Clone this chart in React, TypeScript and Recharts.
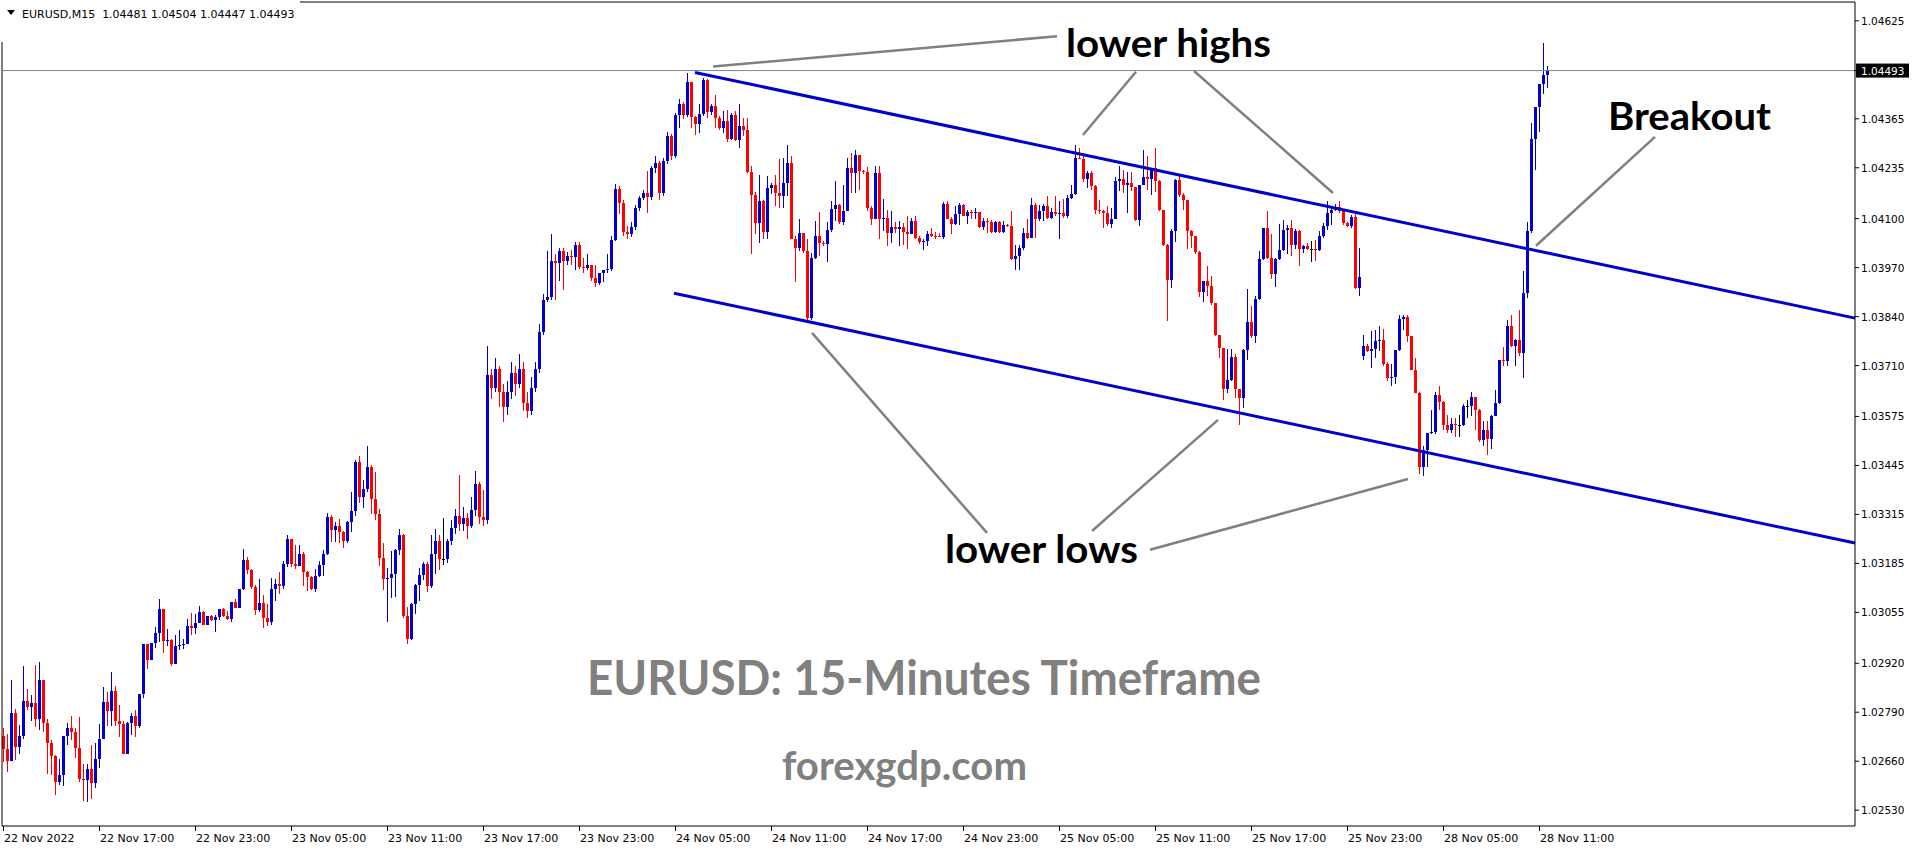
import { ComposedChart, Bar, XAxis, YAxis, ReferenceLine } from "recharts";

// EURUSD M15, 22 Nov 11:00 -> 28 Nov 11:15 (open of each bar = previous close)
const closes = [
  1.02692, 1.02661, 1.02787, 1.02699, 1.02726, 1.02819, 1.02805, 1.02814, 1.02773, 1.02875,
  1.02761, 1.02708, 1.02674, 1.02605, 1.02623, 1.02726, 1.02747, 1.02738, 1.02696, 1.02612,
  1.02611, 1.02639, 1.02602, 1.02665, 1.02718, 1.02817, 1.02794, 1.02846, 1.02767, 1.0276,
  1.02679, 1.02761, 1.0278, 1.02754, 1.02838, 1.0297, 1.02929, 1.02975, 1.03001, 1.03063,
  1.02978, 1.02981, 1.02917, 1.02965, 1.02969, 1.0297, 1.03018, 1.03013, 1.03026, 1.03055,
  1.03022, 1.03045, 1.03034, 1.03042, 1.03063, 1.03046, 1.03038, 1.03082, 1.03067, 1.03116,
  1.03193, 1.03167, 1.03123, 1.03062, 1.03081, 1.03039, 1.0303, 1.03118, 1.0313, 1.03125,
  1.03183, 1.03249, 1.03183, 1.03178, 1.03209, 1.03162, 1.03149, 1.03116, 1.03152, 1.0318,
  1.03209, 1.03307, 1.03274, 1.03284, 1.03267, 1.03245, 1.03295, 1.03324, 1.03455, 1.0336,
  1.03382, 1.0344, 1.03356, 1.03316, 1.032, 1.03143, 1.03145, 1.03156, 1.03221, 1.0326,
  1.03046, 1.02985, 1.03077, 1.03127, 1.03153, 1.03183, 1.03125, 1.03209, 1.03245, 1.03196,
  1.03196, 1.03245, 1.0328, 1.0331, 1.0329, 1.03305, 1.03285, 1.03326, 1.03395, 1.03308,
  1.033, 1.03684, 1.0365, 1.037, 1.0364, 1.036, 1.0364, 1.0369, 1.0366, 1.037,
  1.0361, 1.0359, 1.0365, 1.037, 1.038, 1.03885, 1.03891, 1.03987, 1.03983, 1.04013,
  1.03987, 1.04002, 1.03998, 1.04031, 1.03971, 1.03969, 1.03976, 1.03943, 1.0393, 1.03955,
  1.03963, 1.03966, 1.04042, 1.0418, 1.04142, 1.04064, 1.0406, 1.04077, 1.04129, 1.04155,
  1.04168, 1.04158, 1.04235, 1.04248, 1.04168, 1.04252, 1.04319, 1.04266, 1.04376, 1.04405,
  1.04376, 1.04462, 1.0437, 1.0435, 1.04379, 1.04469, 1.04382, 1.04398, 1.04367, 1.04341,
  1.0436, 1.04312, 1.04376, 1.04308, 1.04347, 1.04336, 1.04223, 1.04164, 1.04089, 1.04148,
  1.04064, 1.04182, 1.0419, 1.04168, 1.0416, 1.04195, 1.04248, 1.04046, 1.04023, 1.04062,
  1.04014, 1.03837, 1.03996, 1.04053, 1.04036, 1.04034, 1.04069, 1.04126, 1.04137, 1.04091,
  1.0412, 1.04235, 1.04221, 1.0427, 1.04226, 1.04223, 1.04129, 1.04098, 1.04221, 1.04098,
  1.04102, 1.04062, 1.04077, 1.04073, 1.04077, 1.04064, 1.04058, 1.04093, 1.04049, 1.04038,
  1.04041, 1.0406, 1.04055, 1.04053, 1.04052, 1.0414, 1.041, 1.04087, 1.04111, 1.04137,
  1.04108, 1.04117, 1.04114, 1.04117, 1.04078, 1.04093, 1.04091, 1.04064, 1.04091, 1.04064,
  1.04084, 1.0408, 1.03992, 1.04, 1.04023, 1.04062, 1.04049, 1.04137, 1.04098, 1.0412,
  1.04133, 1.04102, 1.04117, 1.04111, 1.04115, 1.04108, 1.04155, 1.04166, 1.04261, 1.04257,
  1.04204, 1.04221, 1.04186, 1.04122, 1.0412, 1.04115, 1.04087, 1.04099, 1.04199, 1.04205,
  1.0419, 1.04194, 1.04184, 1.04096, 1.0419, 1.0421, 1.04205, 1.04234, 1.04199, 1.04122,
  1.04031, 1.03938, 1.04066, 1.04202, 1.04164, 1.0415, 1.04066, 1.04053, 1.04011, 1.03905,
  1.03934, 1.03922, 1.03875, 1.0379, 1.03757, 1.03647, 1.03673, 1.03733, 1.03648, 1.03624,
  1.03751, 1.03825, 1.03788, 1.03887, 1.03993, 1.04074, 1.03996, 1.03954, 1.03993, 1.04018,
  1.04071, 1.04075, 1.04031, 1.04066, 1.0402, 1.04027, 1.0402, 1.0402, 1.04016, 1.04055,
  1.0408, 1.04115, 1.04124, 1.04131, 1.04119, 1.04088, 1.0408, 1.04104, 1.03916, 1.03945,
  1.03763, 1.03748, 1.03754, 1.03774, 1.03777, 1.03713, 1.03677, 1.03679, 1.03752, 1.03834,
  1.03839, 1.03788, 1.03699, 1.03637, 1.03441, 1.03485, 1.0353, 1.03533, 1.03633, 1.03613,
  1.03551, 1.0354, 1.03556, 1.03551, 1.03551, 1.03604, 1.03604, 1.03627, 1.03593, 1.03512,
  1.0354, 1.03515, 1.03576, 1.03611, 1.03726, 1.03721, 1.03814, 1.03761, 1.03779, 1.03743,
  1.03903, 1.04066, 1.04311, 1.04396, 1.04458, 1.04481, 1.04493,
];

const highs = [
  1.02747, 1.02732, 1.02875, 1.02798, 1.02756, 1.02913, 1.02851, 1.02835, 1.02915, 1.02923,
  1.02875, 1.02771, 1.02717, 1.02676, 1.02666, 1.02727, 1.02761, 1.02779, 1.02747, 1.02776,
  1.02652, 1.02652, 1.02703, 1.02708, 1.02758, 1.02857, 1.02844, 1.02897, 1.02859, 1.02809,
  1.02767, 1.02764, 1.02788, 1.02796, 1.02838, 1.0297, 1.02965, 1.02975, 1.03017, 1.0309,
  1.03063, 1.0301, 1.02984, 1.02994, 1.03008, 1.02984, 1.03037, 1.03054, 1.0305, 1.03072,
  1.03058, 1.03045, 1.03048, 1.03047, 1.03063, 1.03066, 1.03058, 1.03082, 1.0309, 1.03116,
  1.03222, 1.03201, 1.0317, 1.03127, 1.03143, 1.031, 1.03077, 1.03145, 1.03143, 1.03162,
  1.03191, 1.0326, 1.03249, 1.03233, 1.03233, 1.03214, 1.03165, 1.03152, 1.03169, 1.03191,
  1.03221, 1.0332, 1.03313, 1.03295, 1.03302, 1.0327, 1.03297, 1.03374, 1.0346, 1.03469,
  1.03406, 1.03497, 1.03445, 1.03427, 1.0333, 1.0324, 1.03174, 1.03218, 1.03222, 1.03275,
  1.03262, 1.03068, 1.0308, 1.0313, 1.03174, 1.03189, 1.0319, 1.0326, 1.03277, 1.0326,
  1.03305, 1.03251, 1.033, 1.0333, 1.03419, 1.03335, 1.03318, 1.0336, 1.03429, 1.034,
  1.03379, 1.03762, 1.037, 1.0373, 1.0371, 1.0366, 1.0367, 1.0372, 1.0371, 1.0374,
  1.0372, 1.0364, 1.0368, 1.0372, 1.0382, 1.039, 1.04013, 1.04058, 1.04007, 1.04021,
  1.04021, 1.04011, 1.04018, 1.04038, 1.04037, 1.03996, 1.04005, 1.03965, 1.03976, 1.03955,
  1.03963, 1.04005, 1.04055, 1.04193, 1.04186, 1.0415, 1.0408, 1.0409, 1.04135, 1.0416,
  1.04175, 1.04226, 1.0424, 1.04266, 1.04252, 1.0426, 1.0433, 1.04325, 1.0438, 1.04418,
  1.0441, 1.04487, 1.04462, 1.04372, 1.04403, 1.04473, 1.04471, 1.04405, 1.04429, 1.04372,
  1.04385, 1.04389, 1.0438, 1.04385, 1.04403, 1.04367, 1.04367, 1.0424, 1.0417, 1.04216,
  1.0415, 1.04213, 1.04195, 1.04217, 1.04257, 1.04261, 1.04296, 1.04266, 1.04053, 1.04098,
  1.04062, 1.04045, 1.04009, 1.04093, 1.04117, 1.0404, 1.04091, 1.04146, 1.04199, 1.0414,
  1.0419, 1.04261, 1.04274, 1.04282, 1.0427, 1.04229, 1.04237, 1.04133, 1.04241, 1.04239,
  1.04151, 1.04124, 1.0412, 1.0409, 1.04093, 1.04089, 1.04106, 1.04102, 1.04107, 1.04053,
  1.04045, 1.04067, 1.04075, 1.04064, 1.04062, 1.04144, 1.04146, 1.04104, 1.04133, 1.04142,
  1.04139, 1.04124, 1.04124, 1.04129, 1.04117, 1.04102, 1.04102, 1.04097, 1.04093, 1.04093,
  1.04093, 1.04087, 1.0412, 1.04029, 1.04029, 1.04076, 1.04099, 1.04155, 1.04142, 1.04137,
  1.0414, 1.0416, 1.04129, 1.04161, 1.04146, 1.04152, 1.04164, 1.0419, 1.04296, 1.04288,
  1.04266, 1.04226, 1.04226, 1.0419, 1.04149, 1.04124, 1.04134, 1.04128, 1.0421, 1.04241,
  1.0423, 1.04223, 1.04223, 1.04184, 1.0419, 1.04283, 1.04267, 1.04234, 1.04287, 1.04202,
  1.04122, 1.04034, 1.04073, 1.04205, 1.04212, 1.04168, 1.0414, 1.0407, 1.04055, 1.04013,
  1.03934, 1.03975, 1.03947, 1.03877, 1.03792, 1.03757, 1.03753, 1.03753, 1.03742, 1.03648,
  1.03753, 1.03913, 1.03867, 1.03894, 1.04013, 1.04074, 1.04119, 1.0406, 1.03995, 1.04087,
  1.04097, 1.04084, 1.04097, 1.04072, 1.04069, 1.04031, 1.04035, 1.0404, 1.04044, 1.04066,
  1.04088, 1.04146, 1.04134, 1.04138, 1.04146, 1.04124, 1.04092, 1.0411, 1.04113, 1.04022,
  1.0379, 1.03766, 1.03801, 1.03805, 1.03816, 1.03807, 1.0372, 1.03715, 1.03752, 1.03843,
  1.03843, 1.03845, 1.03788, 1.0373, 1.0364, 1.03496, 1.0353, 1.03591, 1.03639, 1.03657,
  1.03617, 1.0358, 1.03571, 1.03571, 1.0358, 1.03607, 1.03618, 1.03639, 1.03627, 1.03595,
  1.03562, 1.03562, 1.0358, 1.03645, 1.03726, 1.03759, 1.03832, 1.03843, 1.03781, 1.03858,
  1.0396, 1.0409, 1.04355, 1.04396, 1.04458, 1.04566, 1.04504,
];

const lows = [
  1.02657, 1.0263, 1.0266, 1.02664, 1.02679, 1.0272, 1.02796, 1.02767, 1.0275, 1.02743,
  1.02738, 1.02626, 1.02623, 1.0257, 1.02597, 1.02595, 1.02703, 1.02717, 1.02669, 1.02605,
  1.02555, 1.02551, 1.02559, 1.02589, 1.02643, 1.02718, 1.02754, 1.02754, 1.02754, 1.02724,
  1.02679, 1.02679, 1.02729, 1.02724, 1.02749, 1.02827, 1.02904, 1.02929, 1.02961, 1.02977,
  1.02947, 1.02966, 1.02913, 1.02917, 1.02955, 1.02957, 1.0297, 1.02995, 1.02998, 1.03026,
  1.03021, 1.03022, 1.03032, 1.03003, 1.03034, 1.03043, 1.03034, 1.03029, 1.03067, 1.03069,
  1.03114, 1.03157, 1.03118, 1.03047, 1.03056, 1.03014, 1.03019, 1.03022, 1.03085, 1.03105,
  1.03118, 1.03176, 1.03176, 1.03169, 1.03178, 1.03125, 1.03112, 1.03114, 1.03109, 1.0315,
  1.03152, 1.03206, 1.03242, 1.03242, 1.0324, 1.03227, 1.0324, 1.03267, 1.0331, 1.03345,
  1.03331, 1.03375, 1.03316, 1.033, 1.03178, 1.03115, 1.0303, 1.03093, 1.03096, 1.03206,
  1.03039, 1.0297, 1.02982, 1.0305, 1.03085, 1.0314, 1.03109, 1.0312, 1.03156, 1.03168,
  1.0318, 1.03187, 1.03235, 1.03262, 1.0327, 1.03272, 1.0325, 1.03278, 1.03312, 1.0329,
  1.03285, 1.0329, 1.0362, 1.0364, 1.036, 1.0356, 1.0358, 1.0362, 1.0363, 1.0365,
  1.0359, 1.0357, 1.0358, 1.0364, 1.0369, 1.0379, 1.0388, 1.03885, 1.03885, 1.03934,
  1.03911, 1.03978, 1.03976, 1.03963, 1.03966, 1.03956, 1.03963, 1.03934, 1.03919, 1.03923,
  1.03933, 1.03955, 1.0396, 1.0404, 1.04113, 1.04055, 1.04045, 1.0405, 1.0407, 1.0412,
  1.0415, 1.04115, 1.0415, 1.0422, 1.0415, 1.0416, 1.04245, 1.04255, 1.0426, 1.0434,
  1.04365, 1.0437, 1.04341, 1.04321, 1.04327, 1.04373, 1.04367, 1.04376, 1.04341, 1.04336,
  1.04327, 1.04303, 1.04308, 1.04305, 1.04288, 1.04319, 1.04221, 1.04005, 1.0406, 1.04035,
  1.04045, 1.04045, 1.04166, 1.04133, 1.04129, 1.04129, 1.0416, 1.04045, 1.03931, 1.04014,
  1.04009, 1.03832, 1.03832, 1.03992, 1.04, 1.04028, 1.03985, 1.04064, 1.04093, 1.04085,
  1.04084, 1.04168, 1.04168, 1.04168, 1.04177, 1.04219, 1.0412, 1.04084, 1.04098, 1.04045,
  1.04067, 1.04027, 1.04036, 1.04062, 1.04027, 1.04031, 1.0402, 1.04058, 1.04046, 1.04034,
  1.04018, 1.04027, 1.04052, 1.04046, 1.0405, 1.04046, 1.04098, 1.04058, 1.04082, 1.04082,
  1.04107, 1.04087, 1.04098, 1.04098, 1.04075, 1.04071, 1.04062, 1.04062, 1.04062, 1.04062,
  1.04062, 1.04078, 1.0399, 1.03965, 1.03965, 1.04016, 1.04046, 1.04055, 1.04049, 1.04093,
  1.04093, 1.04098, 1.04098, 1.04107, 1.04045, 1.04102, 1.04102, 1.04151, 1.04164, 1.04257,
  1.04197, 1.04182, 1.04177, 1.04111, 1.04111, 1.04075, 1.0408, 1.04075, 1.04099, 1.04173,
  1.04168, 1.04115, 1.04173, 1.04093, 1.0408, 1.0419, 1.04175, 1.04164, 1.04172, 1.0412,
  1.04027, 1.03828, 1.03916, 1.04037, 1.04157, 1.04124, 1.0402, 1.04022, 1.04007, 1.03892,
  1.03878, 1.03894, 1.03872, 1.03788, 1.03731, 1.03618, 1.03638, 1.0367, 1.03624, 1.03551,
  1.03598, 1.03726, 1.03784, 1.0377, 1.03885, 1.0399, 1.03993, 1.0394, 1.03919, 1.0399,
  1.04015, 1.04005, 1.04002, 1.0402, 1.03974, 1.0401, 1.04016, 1.03984, 1.03987, 1.04013,
  1.04049, 1.04071, 1.04084, 1.0412, 1.04115, 1.04084, 1.04078, 1.04075, 1.03912, 1.03894,
  1.03726, 1.03745, 1.03704, 1.0373, 1.03748, 1.0371, 1.03668, 1.03657, 1.0366, 1.0375,
  1.03805, 1.03772, 1.03697, 1.03637, 1.03421, 1.03416, 1.03441, 1.03528, 1.03528, 1.03593,
  1.0354, 1.03531, 1.03531, 1.03521, 1.03521, 1.03549, 1.03571, 1.03576, 1.0354, 1.03507,
  1.03496, 1.03474, 1.03489, 1.03576, 1.03608, 1.0371, 1.0371, 1.03759, 1.0371, 1.03735,
  1.03677, 1.03889, 1.04062, 1.0423, 1.04331, 1.04431, 1.04447,
];

// opens that do not follow the previous close
const firstOpen = 1.02727;
const mondayGap = { index: 340, open: 1.03736 };
const lastOpen = 1.04481;

const timeTickIndex = [0, 24, 48, 72, 96, 120, 144, 168, 192, 216, 240, 264, 288, 312, 336, 360, 384];
const timeLabels = [
  "22 Nov 2022", "22 Nov 17:00", "22 Nov 23:00", "23 Nov 05:00", "23 Nov 11:00", "23 Nov 17:00",
  "23 Nov 23:00", "24 Nov 05:00", "24 Nov 11:00", "24 Nov 17:00", "24 Nov 23:00", "25 Nov 05:00",
  "25 Nov 11:00", "25 Nov 17:00", "25 Nov 23:00", "28 Nov 05:00", "28 Nov 11:00",
];
const priceTicks = [
  1.04625, 1.04493, 1.04365, 1.04235, 1.041, 1.0397, 1.0384, 1.0371, 1.03575,
  1.03445, 1.03315, 1.03185, 1.03055, 1.0292, 1.0279, 1.0266, 1.0253,
];

// drawn objects, in (bar index, price)
const upperChannel = [{ x: 173, y: 1.04488 }, { x: 463, y: 1.03836 }];
const lowerChannel = [{ x: 167.75, y: 1.03902 }, { x: 463, y: 1.03239 }];
const pointerLines = [
  [{ x: 177.5, y: 1.04504 }, { x: 263.5, y: 1.04584 }],
  [{ x: 283.25, y: 1.0449 }, { x: 270, y: 1.04322 }],
  [{ x: 297.75, y: 1.04492 }, { x: 332.5, y: 1.04168 }],
  [{ x: 413, y: 1.04317 }, { x: 383.25, y: 1.04028 }],
  [{ x: 202.25, y: 1.03797 }, { x: 246, y: 1.03266 }],
  [{ x: 272.25, y: 1.03271 }, { x: 303.75, y: 1.03566 }],
  [{ x: 286.75, y: 1.03221 }, { x: 351.25, y: 1.03409 }],
];

const BULL = "#0000CC";
const BEAR = "#FF0000";
const DOJI = "#000000";
const AXIS_FONT = "'DejaVu Sans', Verdana, sans-serif";
const NOTE_FONT = "Lato, 'Open Sans', sans-serif";

const candles = closes.map((close, i) => {
  let open = i === 0 ? firstOpen : closes[i - 1];
  if (i === mondayGap.index) open = mondayGap.open;
  if (i === closes.length - 1) open = lastOpen;
  return {
    i,
    open,
    close,
    high: Math.max(highs[i], open, close),
    low: Math.min(lows[i], open, close),
  };
});

const Candle = (props: any) => {
  const { x, y, width, height, payload } = props;
  if (!payload || y == null) return null;
  const cx = Math.round(x + width / 2);
  const span = payload.high - payload.low;
  const k = span > 0 ? height / span : 0;
  const yo = y + (payload.high - payload.open) * k;
  const yc = y + (payload.high - payload.close) * k;
  const color = payload.close > payload.open ? BULL : payload.close < payload.open ? BEAR : DOJI;
  const top = Math.round(Math.min(yo, yc));
  const bot = Math.round(Math.max(yo, yc));
  const wTop = Math.round(y);
  const wBot = Math.round(y + height);
  return (
    <g>
      <rect x={cx} y={wTop} width={1} height={Math.max(1, wBot - wTop)} fill={color} />
      <rect x={cx - 1} y={top} width={3} height={Math.max(1, bot - top)} fill={color} />
    </g>
  );
};

const PriceTick = (props: any) => {
  const { x, y, payload } = props;
  const v = payload.value;
  const isLast = Math.abs(v - closes[closes.length - 1]) < 1e-7;
  return (
    <g>
      <line x1={x} x2={x + 4} y1={y} y2={y} stroke="#000" />
      {isLast && <rect x={x + 1} y={y - 7} width={53} height={14} fill="#000" />}
      <text
        x={x + 6}
        y={y}
        dy={4}
        fontFamily={AXIS_FONT}
        fontSize={10.5}
        fill={isLast ? "#fff" : "#000"}
      >
        {v.toFixed(5)}
      </text>
    </g>
  );
};

const TimeTick = (props: any) => {
  const { x, y, payload, index } = props;
  return (
    <g>
      <line x1={x + 0.5} x2={x + 0.5} y1={y} y2={y + 5} stroke="#000" />
      <text x={x + 1} y={y + 16} fontFamily={AXIS_FONT} fontSize={11} fill="#000">
        {timeLabels[timeTickIndex.indexOf(payload.value)] ?? timeLabels[index]}
      </text>
    </g>
  );
};

export default function App() {
  const last = candles[candles.length - 1];
  const header = `EURUSD,M15  ${last.open.toFixed(5)} ${last.high.toFixed(5)} ${last.low.toFixed(5)} ${last.close.toFixed(5)}`;

  return (
    <div style={{ position: "absolute", left: 0, top: 0, width: 1916, height: 850, background: "#fff" }}>
      <ComposedChart
        width={1916}
        height={850}
        data={candles}
        margin={{ top: 2, left: 2, right: 0, bottom: 0 }}
      >
        <XAxis
          type="number"
          dataKey="i"
          domain={[-0.25, 463]}
          allowDataOverflow
          ticks={timeTickIndex}
          interval={0}
          height={24}
          tickSize={0}
          tickMargin={0}
          axisLine={{ stroke: "#000" }}
          tick={<TimeTick />}
        />
        <YAxis
          orientation="right"
          type="number"
          domain={[1.02488, 1.04675]}
          allowDataOverflow
          ticks={priceTicks}
          interval={0}
          width={61}
          tickSize={0}
          tickMargin={0}
          axisLine={{ stroke: "#000" }}
          tick={<PriceTick />}
        />
        <ReferenceLine y={1.04675} stroke="#000" ifOverflow="visible" />
        <ReferenceLine x={-0.25} stroke="#000" ifOverflow="visible" />
        <ReferenceLine y={last.close} stroke="#778899" strokeWidth={1} />
        <Bar
          dataKey={(d: any) => [d.low, d.high]}
          barSize={3}
          shape={<Candle />}
          isAnimationActive={false}
        />
        <ReferenceLine segment={upperChannel} stroke={BULL} strokeWidth={3} ifOverflow="visible" />
        <ReferenceLine segment={lowerChannel} stroke={BULL} strokeWidth={3} ifOverflow="visible" />
        {pointerLines.map((seg, k) => (
          <ReferenceLine key={k} segment={seg} stroke="#808080" strokeWidth={2.5} ifOverflow="visible" />
        ))}
      </ComposedChart>

      <svg
        width={1916}
        height={850}
        style={{ position: "absolute", left: 0, top: 0, pointerEvents: "none" }}
      >
        <rect x={0} y={0} width={300} height={42} fill="#fff" />
        <polygon points="7,10 15,10 11,15" fill="#000" />
        <text x={22} y={18} fontFamily={AXIS_FONT} fontSize={11} fill="#000" style={{ whiteSpace: "pre" }}>
          {header}
        </text>

        <text x={1066} y={57} fontFamily={NOTE_FONT} fontWeight="bold" fontSize={39} textLength={205} lengthAdjust="spacingAndGlyphs">
          lower highs
        </text>
        <text x={1608} y={130} fontFamily={NOTE_FONT} fontWeight="bold" fontSize={39} textLength={163} lengthAdjust="spacingAndGlyphs">
          Breakout
        </text>
        <text x={945} y={563} fontFamily={NOTE_FONT} fontWeight="bold" fontSize={39} textLength={193} lengthAdjust="spacingAndGlyphs">
          lower lows
        </text>
        <text x={587} y={695} fontFamily={NOTE_FONT} fontWeight="bold" fontSize={48} fill="#808080" textLength={674} lengthAdjust="spacingAndGlyphs">
          EURUSD: 15-Minutes Timeframe
        </text>
        <text x={782} y={780} fontFamily={NOTE_FONT} fontWeight="bold" fontSize={40} fill="#808080" textLength={245} lengthAdjust="spacingAndGlyphs">
          forexgdp.com
        </text>
      </svg>
    </div>
  );
}
